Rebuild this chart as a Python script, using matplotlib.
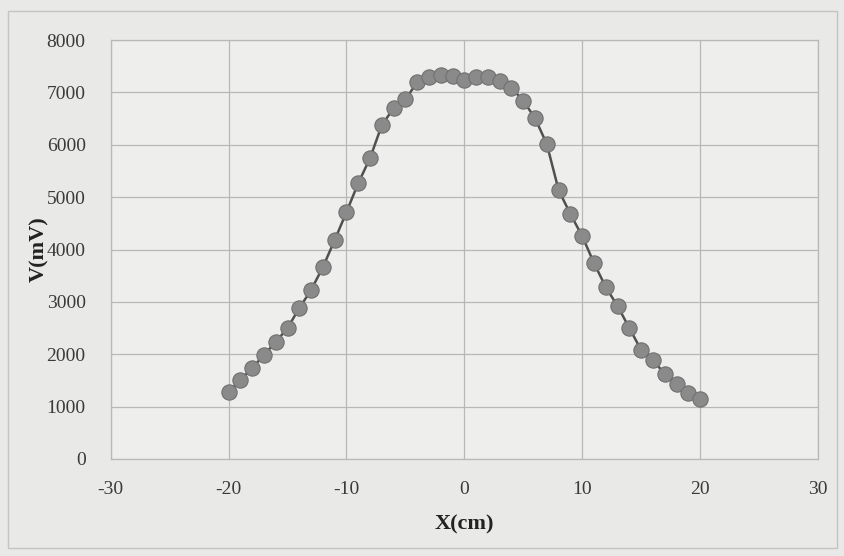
import matplotlib
matplotlib.use("Agg")
import matplotlib.pyplot as plt
from matplotlib.patches import Rectangle

x_cm = list(range(-20, 21))
v_mv = [1280, 1508, 1737, 1985, 2233, 2500, 2882, 3225, 3664, 4179,
        4714, 5267, 5744, 6374, 6698, 6870, 7190, 7300, 7335, 7320,
        7233, 7290, 7300, 7214, 7090, 6840, 6508, 6011, 5134, 4676,
        4256, 3740, 3282, 2920, 2500, 2080, 1889, 1622, 1431, 1260, 1145]
x_ticks = [-30, -20, -10, 0, 10, 20, 30]
y_ticks = [0, 1000, 2000, 3000, 4000, 5000, 6000, 7000, 8000]

plt.rcParams['font.family'] = ['Liberation Serif', 'DejaVu Serif']
plt.rcParams['axes.unicode_minus'] = False

fig = plt.figure(figsize=(8.45, 5.56), dpi=100)
fig.patch.set_facecolor('#e9e9e7')
fig.add_artist(Rectangle((0.010, 0.015), 0.980, 0.965, transform=fig.transFigure,
                         fill=False, edgecolor='#c4c4c2', linewidth=1.0))
ax = fig.add_axes([0.131, 0.1745, 0.837, 0.7535])
ax.set_facecolor('#eeeeec')

ax.plot(x_cm, v_mv, color='#505050', linewidth=1.8, marker='o', markersize=11,
        markerfacecolor='#8a8a8a', markeredgecolor='#707070', markeredgewidth=0.8,
        zorder=3)

ax.set_xlim(-30, 30)
ax.set_ylim(0, 8000)
ax.set_xticks(x_ticks)
ax.set_yticks(y_ticks)
ax.grid(True, color='#b8b8b6', linewidth=0.9)
ax.set_axisbelow(True)
for s in ax.spines.values():
    s.set_color('#b8b8b6')
    s.set_linewidth(0.9)
ax.tick_params(axis='x', length=0, labelsize=14, colors='#3a3a3a', pad=16)
ax.tick_params(axis='y', length=0, labelsize=14, colors='#3a3a3a', pad=18)
ax.set_xlabel('X(cm)', fontsize=16, fontweight='bold', color='#222222', labelpad=12)
ax.set_ylabel('V(mV)', fontsize=16, fontweight='bold', color='#222222', labelpad=-2)

fig.savefig('out.png', dpi=100, facecolor=fig.get_facecolor())
